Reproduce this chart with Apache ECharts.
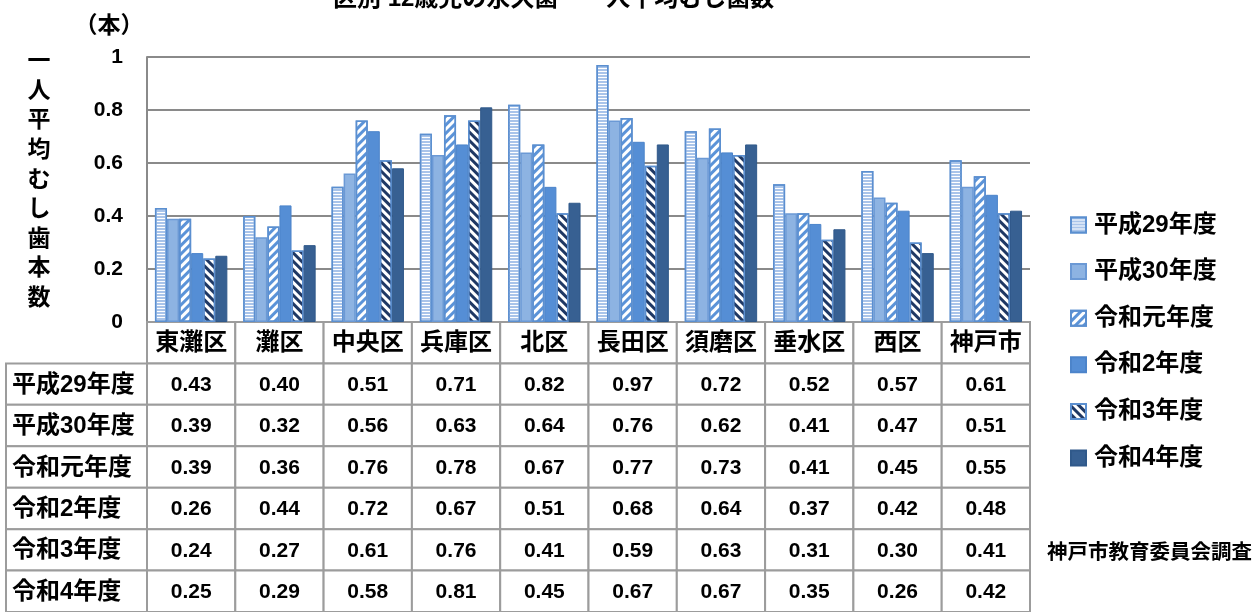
<!DOCTYPE html>
<html><head><meta charset="utf-8">
<script src="https://cdn.jsdelivr.net/npm/echarts@6/dist/echarts.min.js"></script>
<style>html,body{margin:0;padding:0;background:#fff}#c{width:1255px;height:612px}</style>
</head><body><div id="c"></div>
<script>
const categories = ['東灘区','灘区','中央区','兵庫区','北区','長田区','須磨区','垂水区','西区','神戸市'];
const seriesNames = ['平成29年度','平成30年度','令和元年度','令和2年度','令和3年度','令和4年度'];
const h29 = [0.43,0.40,0.51,0.71,0.82,0.97,0.72,0.52,0.57,0.61];
const h30 = [0.39,0.32,0.56,0.63,0.64,0.76,0.62,0.41,0.47,0.51];
const r1  = [0.39,0.36,0.76,0.78,0.67,0.77,0.73,0.41,0.45,0.55];
const r2  = [0.26,0.44,0.72,0.67,0.51,0.68,0.64,0.37,0.42,0.48];
const r3  = [0.24,0.27,0.61,0.76,0.41,0.59,0.63,0.31,0.30,0.41];
const r4  = [0.25,0.29,0.58,0.81,0.45,0.67,0.67,0.35,0.26,0.42];
const allValues = [h29,h30,r1,r2,r3,r4];
const titleText = '区別 12歳児の永久歯　一人平均むし歯数';
const yAxisTitle = '一人平均むし歯本数';
const unitText = '（本）';
const sourceText = '神戸市教育委員会調査';

const FF = "'Liberation Sans','Noto Sans CJK JP',sans-serif";
const GRID_LEFT = 147, GRID_RIGHT = 225;
const TABLE_LABEL_LEFT = 6;
const BORDER = '#9c9c9c';

const styles = [
  {color:'#ffffff', borderColor:'#5B8FD0', borderWidth:1.5,
   decal:{symbol:'rect', symbolSize:1, color:'#A9C4EA', dashArrayX:[1,0], dashArrayY:[2,1], rotation:0}},
  {color:'#8DB3E2', borderColor:'#6B99D5', borderWidth:1.5},
  {color:'#ffffff', borderColor:'#5B8FD0', borderWidth:1.5,
   decal:{symbol:'rect', symbolSize:1, color:'#5B93D8', dashArrayX:[1,0], dashArrayY:[3,3], rotation:-Math.PI/4}},
  {color:'#558ED5', borderColor:'#4C84CA', borderWidth:1},
  {color:'#ffffff', borderColor:'#5B8FD0', borderWidth:1.5,
   decal:{symbol:'rect', symbolSize:1, color:'#1F3864', dashArrayX:[1,0], dashArrayY:[3,3], rotation:Math.PI/4}},
  {color:'#376092', borderColor:'#30598A', borderWidth:1}
];

const barSeries = seriesNames.map((n,i)=>({
  name:n, type:'bar', xAxisIndex:0, yAxisIndex:0,
  data: allValues[i], barGap:'0%', barCategoryGap:'18%',
  itemStyle: styles[i]
}));

const tableData = [];
for (let r=0;r<=seriesNames.length;r++) for (let c=0;c<categories.length;c++) tableData.push([c,r]);

function cellText(c,r){
  if (r===0) return categories[c];
  return allValues[r-1][c].toFixed(2);
}

const tableSeries = {
  type:'custom', xAxisIndex:1, yAxisIndex:1, data: tableData, silent:true,
  renderItem: function(params, api){
    const c = api.value(0), r = api.value(1);
    const ctr = api.coord([c, r]);
    const sz = api.size([1,1]);
    const x0 = ctr[0]-sz[0]/2, y0 = ctr[1]-sz[1]/2;
    const children = [
      {type:'rect', shape:{x:x0,y:y0,width:sz[0],height:sz[1]}, style:{fill:'#fff',stroke:BORDER,lineWidth:2}},
      {type:'text', style:{text:cellText(c,r), x:ctr[0], y:ctr[1]+1, align:'center', verticalAlign:'middle',
        font:'bold '+(r===0?24:21)+'px '+FF, fill:'#000'}}
    ];
    if (c===0 && r>0){
      children.push({type:'rect', shape:{x:TABLE_LABEL_LEFT,y:y0,width:x0-TABLE_LABEL_LEFT,height:sz[1]}, style:{fill:'#fff',stroke:BORDER,lineWidth:2}});
      children.push({type:'text', style:{text:seriesNames[r-1], x:TABLE_LABEL_LEFT+6, y:ctr[1]+1, align:'left', verticalAlign:'middle',
        font:'bold 24px '+FF, fill:'#000'}});
    }
    return {type:'group', children};
  }
};

const chart = echarts.init(document.getElementById('c'));
chart.setOption({
  animation:false,
  backgroundColor:'#fff',
  textStyle:{fontFamily:FF},
  grid:[
    {left:GRID_LEFT, right:GRID_RIGHT, top:57, bottom:290},
    {left:GRID_LEFT, right:GRID_RIGHT, top:322, height:292}
  ],
  xAxis:[
    {type:'category', gridIndex:0, data:categories,
     axisLine:{show:true, lineStyle:{color:'#8a8a8a', width:2}}, axisTick:{show:false}, axisLabel:{show:false}},
    {type:'category', gridIndex:1, data:categories, show:false}
  ],
  yAxis:[
    {type:'value', gridIndex:0, min:0, max:1, interval:0.2,
     axisLine:{show:true, lineStyle:{color:'#8a8a8a', width:2}}, axisTick:{show:false},
     axisLabel:{fontSize:21, fontWeight:'bold', color:'#000', margin:24, fontFamily:FF},
     splitLine:{lineStyle:{color:'#8a8a8a', width:2}}},
    {type:'category', gridIndex:1, inverse:true, data:[''].concat(seriesNames), show:false}
  ],
  legend:{
    data:seriesNames, orient:'vertical', left:1070, top:213, padding:0,
    itemWidth:15, itemHeight:15, itemGap:22.6, icon:'rect',
    textStyle:{fontSize:24, fontWeight:'bold', color:'#000', lineHeight:24, fontFamily:FF, padding:[0,0,0,3]}
  },
  graphic:[
    {type:'text', left:333, top:-13, style:{text:titleText, font:'bold 24px '+FF, fill:'#000'}},
    {type:'text', x:109, y:27, style:{text:unitText, font:'bold 23px '+FF, fill:'#000', align:'center', verticalAlign:'middle'}},
    {type:'text', x:39, y:47, style:{text:yAxisTitle.split('').join('\n'), font:'bold 23px '+FF, fill:'#000', align:'center', lineHeight:29.6}},
    {type:'text', x:1047, y:553, style:{text:sourceText, font:'bold 20.5px '+FF, fill:'#000', verticalAlign:'middle'}}
  ],
  series: barSeries.concat([tableSeries])
});
</script></body></html>
